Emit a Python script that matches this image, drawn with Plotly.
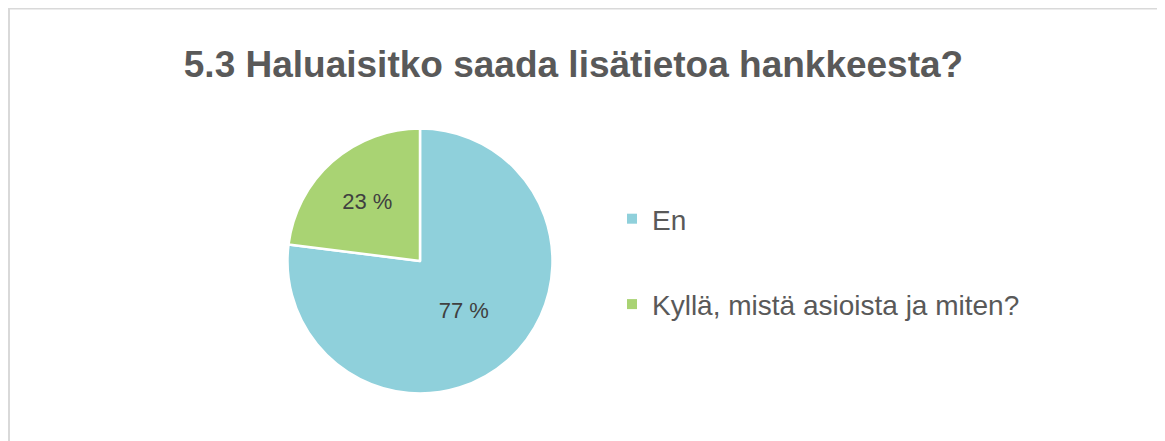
import plotly.graph_objects as go

categories = ["En", "Kyllä, mistä asioista ja miten?"]
values = [77, 23]
colors = ["#8FD0DB", "#A9D373"]
title_text = "5.3 Haluaisitko saada lisätietoa hankkeesta?"

# figure fits the window after the page's 8px body margin
W, H = 1157, 433
FONT = "Liberation Sans, Arial, sans-serif"

labels_txt = [f"{v} %" for v in values]

# pie geometry in figure pixels
cx, cy, r = 412, 253, 132.5
fig = go.Figure()
fig.add_trace(go.Pie(
    labels=categories,
    values=values,
    text=labels_txt,
    texttemplate="%{text}",
    textposition="inside",
    insidetextorientation="horizontal",
    textfont=dict(family=FONT, size=22, color="#404040"),
    marker=dict(colors=colors, line=dict(color="white", width=2.5)),
    sort=False,
    direction="clockwise",
    rotation=0,
    showlegend=False,
    hoverinfo="label+percent",
    domain=dict(x=[(cx - r) / W, (cx + r) / W],
                y=[(H - cy - r) / H, (H - cy + r) / H]),
))

# legend entries (one group each so the gap between them can be set)
for name, col in zip(categories, colors):
    fig.add_trace(go.Scatter(
        x=[None], y=[None], mode="markers", name=name,
        marker=dict(symbol="square", size=10, color=col),
        legendgroup=name, showlegend=True, hoverinfo="skip",
    ))

fig.update_layout(
    width=W, height=H,
    margin=dict(l=0, r=0, t=0, b=0),
    paper_bgcolor="white", plot_bgcolor="white",
    xaxis=dict(visible=False), yaxis=dict(visible=False),
    title=dict(text=f"<b>{title_text}</b>", x=565.5 / W, xanchor="center",
               y=1 - 56 / H, yanchor="middle", yref="container",
               font=dict(family=FONT, size=37, color="#595959")),
    legend=dict(x=604 / W, xanchor="left", y=1 - 253.5 / H, yanchor="middle",
                font=dict(family=FONT, size=28, color="#595959"),
                tracegroupgap=46, bgcolor="rgba(0,0,0,0)",
                itemclick=False, itemdoubleclick=False),
    shapes=[dict(type="rect", xref="paper", yref="paper",
                 x0=1 / W, x1=1.05, y0=-0.05, y1=1 - 0.5 / H,
                 line=dict(color="#D9D9D9", width=2), fillcolor="rgba(0,0,0,0)",
                 layer="below")],
)

fig.write_html("out.html")
